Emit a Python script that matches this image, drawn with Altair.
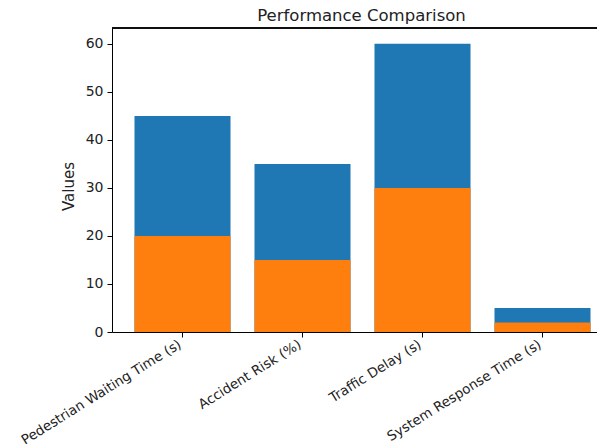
import altair as alt
import pandas as pd

categories = ["Pedestrian Waiting Time (s)", "Accident Risk (%)", "Traffic Delay (s)", "System Response Time (s)"]
traditional = [45, 35, 60, 5]
smart = [20, 15, 30, 2]

df = pd.DataFrame({"Metric": categories, "Traditional": traditional, "Smart": smart})

FONT = "DejaVu Sans"
xscale = alt.Scale(domain=categories, range=[0, 501], paddingInner=0.2, paddingOuter=0.1875)
yscale = alt.Scale(domain=[0, 63.3], nice=False)

xenc = alt.X("Metric:N", scale=xscale, sort=categories,
             axis=alt.Axis(title=None, labelAngle=-32, labelAlign="right", labelBaseline="top",
                           labelFontSize=13.5, labelFont=FONT, labelColor="#222", labelOffset=-6,
                           tickSize=5, tickColor="#000", domainColor="#000", labelPadding=0,
                           labelLimit=400))
yaxis = alt.Axis(title="Values", values=[0, 10, 20, 30, 40, 50, 60], grid=False,
                 labelFontSize=14, labelFont=FONT, labelColor="#222", tickSize=5,
                 tickColor="#000", domainColor="#000", titleFontSize=15, titleFont=FONT,
                 titleFontWeight="normal", titleColor="#222", titlePadding=9, labelPadding=4,
                 titleY=158)

blue = alt.Chart(df).mark_bar(color="#1f77b4").encode(
    x=xenc, y=alt.Y("Traditional:Q", scale=yscale, axis=yaxis))
orange = alt.Chart(df).mark_bar(color="#ff7f0e").encode(
    x=xenc, y=alt.Y("Smart:Q", scale=yscale))
top = alt.Chart(df).mark_rule(color="#000", strokeWidth=1).encode(
    x=alt.value(0), x2=alt.value(485), y=alt.value(0))

chart = alt.layer(blue, orange, top).properties(
    width=485, height=304,
    autosize=alt.AutoSizeParams(type="none"),
    padding={"left": 104, "top": 20, "right": 0, "bottom": 116},
    title=alt.Title("Performance Comparison", fontSize=16.5, font=FONT, fontWeight="normal",
                    color="#222", offset=3, dx=7),
).configure_view(stroke=None)

chart.save("out.html", embed_options={"renderer": "svg", "actions": False})
